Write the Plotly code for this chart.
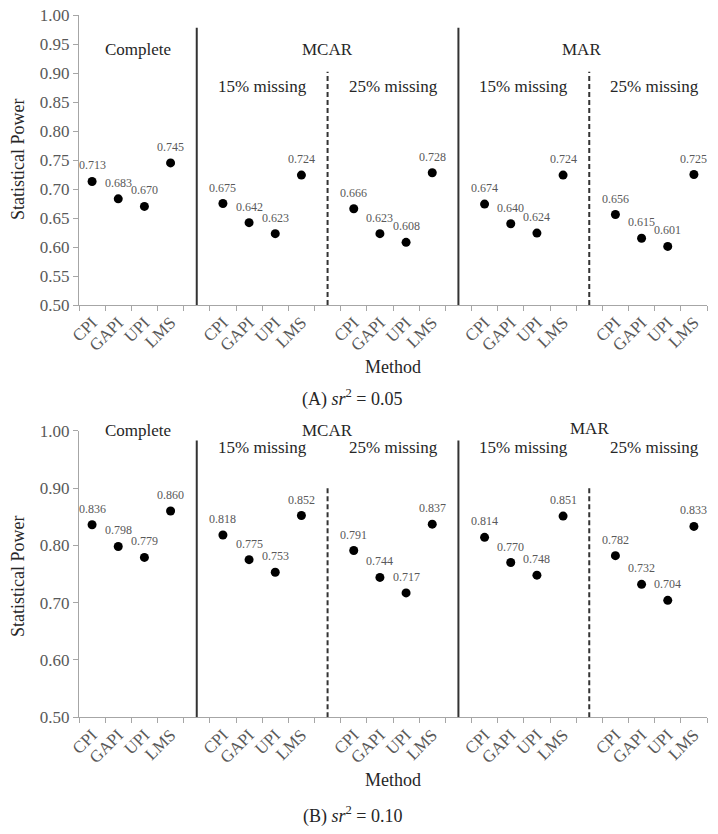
import plotly.graph_objects as go

methods = ["CPI", "GAPI", "UPI", "LMS"]
groups = ["Complete", "MCAR 15%", "MCAR 25%", "MAR 15%", "MAR 25%"]
group_start = [0, 5, 10, 15, 20]

# Panel A: sr^2 = 0.05
a_complete = [0.713, 0.683, 0.670, 0.745]
a_mcar15 = [0.675, 0.642, 0.623, 0.724]
a_mcar25 = [0.666, 0.623, 0.608, 0.728]
a_mar15 = [0.674, 0.640, 0.624, 0.724]
a_mar25 = [0.656, 0.615, 0.601, 0.725]

# Panel B: sr^2 = 0.10
b_complete = [0.836, 0.798, 0.779, 0.860]
b_mcar15 = [0.818, 0.775, 0.753, 0.852]
b_mcar25 = [0.791, 0.744, 0.717, 0.837]
b_mar15 = [0.814, 0.770, 0.748, 0.851]
b_mar25 = [0.782, 0.732, 0.704, 0.833]

panel_a = [a_complete, a_mcar15, a_mcar25, a_mar15, a_mar25]
panel_b = [b_complete, b_mcar15, b_mcar25, b_mar15, b_mar25]

FONT = "Liberation Serif, Times New Roman, serif"
AXIS_GRAY = "#a6a6a6"
TICK_TXT = "#595959"
LABEL_TXT = "#595959"
W, H = 718, 834

fig = go.Figure()

def add_panel(data, xa, ya):
    xs, ys = [], []
    for start, vals in zip(group_start, data):
        for j, v in enumerate(vals):
            xs.append(start + j)
            ys.append(v)
    fig.add_trace(go.Scatter(
        x=xs, y=ys, mode="markers", xaxis=xa, yaxis=ya,
        marker=dict(color="black", size=9),
        showlegend=False, hoverinfo="skip", cliponaxis=False,
    ))
    for xv, yv in zip(xs, ys):
        fig.add_annotation(text=f"{yv:.3f}", x=xv, y=yv, xref=xa, yref=ya,
                           showarrow=False, yshift=16,
                           font=dict(family=FONT, size=12, color=LABEL_TXT),
                           xanchor="center", yanchor="middle")

add_panel(panel_a, "x", "y")
add_panel(panel_b, "x2", "y2")

tickvals = [s + j for s in group_start for j in range(4)]
ticktext = [methods[j] for s in group_start for j in range(4)]

xaxis_common = dict(
    range=[-0.5, 23.5], tickmode="array", tickvals=tickvals, ticktext=ticktext,
    tickangle=-45, ticks="", showgrid=False, zeroline=False, automargin=False,
    showline=True, linecolor=AXIS_GRAY, linewidth=1,
    tickfont=dict(family=FONT, size=17, color=TICK_TXT),
    minor=dict(tickmode="linear", tick0=-0.5, dtick=1, ticks="outside",
               ticklen=5, tickcolor=AXIS_GRAY, showgrid=False),
)
yaxis_common = dict(
    range=[0.5, 1.0], tickformat=".2f", ticks="outside", ticklen=5,
    tickcolor=AXIS_GRAY, showgrid=False, zeroline=False, automargin=False,
    showline=True, linecolor=AXIS_GRAY, linewidth=1,
    tickfont=dict(family=FONT, size=17, color=TICK_TXT),
)

A_TOP, A_BOT = 15, 305
B_TOP, B_BOT = 430.7, 717.3
xd = [79 / W, 707 / W]
fig.update_layout(
    width=W, height=H,
    margin=dict(l=0, r=0, t=0, b=0),
    paper_bgcolor="white", plot_bgcolor="white",
    xaxis=dict(domain=xd, anchor="y", **xaxis_common),
    yaxis=dict(domain=[1 - A_BOT / H, 1 - A_TOP / H], anchor="x", dtick=0.05, **yaxis_common),
    xaxis2=dict(domain=xd, anchor="y2", **xaxis_common),
    yaxis2=dict(domain=[1 - B_BOT / H, 1 - B_TOP / H], anchor="x2", dtick=0.1, **yaxis_common),
)

# separators: solid between mechanisms, dashed between missing rates
def add_lines(xr, yr, solid_top, dash_top):
    for xv in [4, 14]:
        fig.add_shape(type="line", xref=xr, yref=yr, x0=xv, x1=xv, y0=0.5, y1=solid_top,
                      line=dict(color="#333333", width=2))
    for xv in [9, 19]:
        fig.add_shape(type="line", xref=xr, yref=yr, x0=xv, x1=xv, y0=0.5, y1=dash_top,
                      line=dict(color="#333333", width=2, dash="5px,3px"))

add_lines("x", "y", 0.978, 0.902)
add_lines("x2", "y2", 0.983, 0.905)

def ann(text, x, y, xr, yr, size=17, color="#262626"):
    # y given in data units; placed via axis-domain fraction so values above range still show
    frac = (y - 0.5) / 0.5
    fig.add_annotation(text=text, x=x, y=frac, xref=xr, yref=yr + " domain", showarrow=False,
                       font=dict(family=FONT, size=size, color=color),
                       xanchor="center", yanchor="middle")

# Panel A headers
ann("Complete", 1.75, 0.94, "x", "y")
ann("MCAR", 9, 0.94, "x", "y")
ann("MAR", 18.7, 0.94, "x", "y")
for xc, t in [(6.5, "15% missing"), (11.5, "25% missing"), (16.5, "15% missing"), (21.5, "25% missing")]:
    ann(t, xc, 0.8775, "x", "y")

# Panel B headers
ann("Complete", 1.75, 1.001, "x2", "y2")
ann("MCAR", 9, 1.001, "x2", "y2")
ann("MAR", 19, 1.003, "x2", "y2")
for xc, t in [(6.5, "15% missing"), (11.5, "25% missing"), (16.5, "15% missing"), (21.5, "25% missing")]:
    ann(t, xc, 0.97, "x2", "y2")

# axis titles and captions
def paper_ann(text, xpx, ypx, size=18, angle=0):
    fig.add_annotation(text=text, x=xpx / W, y=1 - ypx / H, xref="paper", yref="paper",
                       showarrow=False, textangle=angle,
                       font=dict(family=FONT, size=size, color="#262626"),
                       xanchor="center", yanchor="middle")

paper_ann("Statistical Power", 18, 160, angle=-90)
paper_ann("Statistical Power", 18, 577, angle=-90)
paper_ann("Method", 393, 367)
paper_ann("Method", 393, 780)
paper_ann("(A) <i>sr</i><sup>2</sup> = 0.05", 352, 398)
paper_ann("(B) <i>sr</i><sup>2</sup> = 0.10", 352, 815)

fig.write_html(
    "out.html",
    config={"displayModeBar": False},
    post_script="document.body.style.margin='0';document.body.style.overflow='hidden';",
)
